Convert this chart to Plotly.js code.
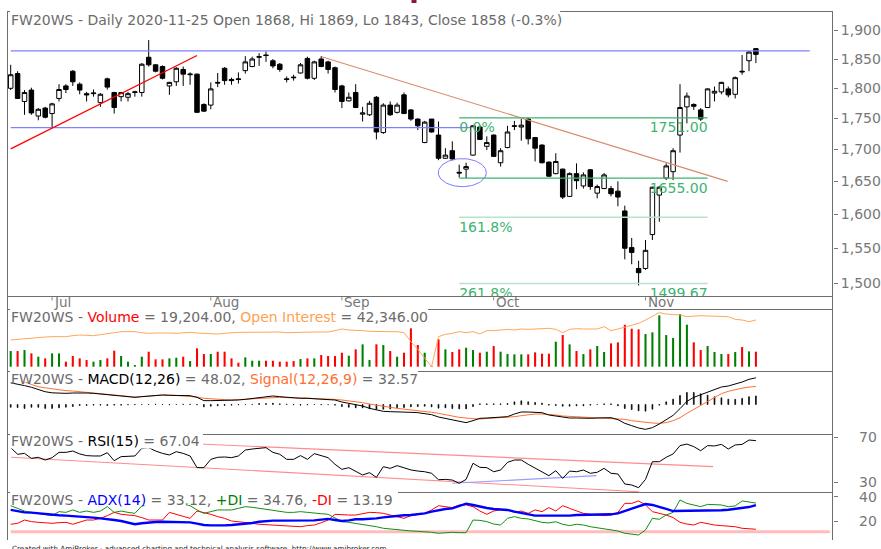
<!DOCTYPE html>
<html><head><meta charset="utf-8">
<script src="https://cdn.plot.ly/plotly-3.0.1.min.js"></script>
<style>html,body{margin:0;padding:0;background:#fff;overflow:hidden}#chart{width:881px;height:549px}</style>
</head><body><div id="chart"></div>
<script>
// ---------------- DATA ----------------
const open = [1800,1825,1778,1797,1754,1767,1758,1783,1804,1829,
1807,1791,1791,1776,1816,1793,1786,1785,1793,1793,
1853,1840,1837,1804,1811,1832,1823,1824,1773,1772,
1810,1834,1815,1816,1830,1837,1853,1857,1847,1841,
1816,1819,1826,1851,1817,1850,1845,1835,1804,1779,
1793,1757,1756,1785,1727,1772,1760,1789,1764,1749,
1711,1749,1723,1686,1698,1664,1669,1691,1736,1705,
1723,1679,1703,1737,1736,1749,1719,1707,1680,1662,
1669,1627,1662,1643,1668,1632,1639,1639,1635,1605,
1551,1521,1521,1570,1629,1655,1665,1723,1769,1773,
1764,1768,1792,1794,1799,1790,1829,1847,1868];
const high = [1840,1829,1797,1801,1767,1769,1776,1807,1807,1831,
1810,1794,1798,1792,1818,1794,1794,1794,1796,1843,
1883,1841,1839,1811,1836,1837,1827,1825,1775,1810,
1826,1836,1818,1827,1855,1854,1860,1863,1850,1843,
1820,1823,1843,1854,1847,1855,1847,1837,1806,1793,
1807,1769,1779,1787,1775,1778,1776,1793,1765,1750,
1746,1749,1745,1702,1713,1676,1679,1739,1739,1721,
1724,1702,1738,1746,1749,1751,1720,1708,1681,1694,
1670,1664,1678,1664,1669,1645,1663,1643,1650,1613,
1565,1532,1562,1642,1643,1678,1702,1807,1793,1775,
1767,1800,1803,1811,1803,1820,1857,1864,1869];
const low = [1797,1782,1756,1756,1747,1750,1734,1778,1792,1804,
1790,1778,1786,1769,1798,1758,1778,1778,1786,1786,
1837,1827,1815,1789,1804,1804,1806,1759,1761,1765,
1802,1806,1806,1808,1825,1836,1838,1845,1834,1828,
1810,1813,1825,1815,1814,1836,1825,1793,1767,1778,
1767,1745,1754,1716,1725,1754,1758,1757,1746,1731,
1710,1727,1683,1685,1683,1656,1655,1690,1715,1699,
1688,1673,1702,1731,1714,1708,1681,1678,1657,1661,
1623,1626,1638,1639,1637,1624,1638,1627,1612,1534,
1527,1497,1519,1562,1589,1652,1652,1695,1742,1764,
1746,1767,1778,1790,1785,1783,1823,1829,1843];
const close = [1823,1783,1793,1759,1765,1752,1774,1798,1798,1811,
1797,1789,1792,1790,1802,1768,1793,1791,1794,1841,
1840,1829,1817,1810,1834,1824,1824,1760,1762,1799,
1809,1813,1813,1815,1845,1850,1854,1856,1838,1832,
1815,1818,1840,1817,1845,1837,1832,1798,1778,1785,
1768,1759,1775,1728,1772,1756,1772,1758,1749,1738,
1744,1728,1686,1691,1685,1663,1673,1738,1716,1711,
1689,1698,1728,1738,1739,1717,1702,1679,1658,1681,
1626,1662,1651,1660,1642,1642,1660,1631,1626,1550,
1544,1515,1547,1641,1641,1674,1698,1768,1787,1770,
1749,1799,1795,1810,1789,1818,1828,1862,1858];
const volume = [20050,20050,21330,17070,12800,10670,17070,17070,6400,13650,
10670,8530,6400,8530,10670,20480,13650,6400,2130,12800,
19200,9390,9390,10670,11520,12800,7250,23470,16210,16210,
19200,19200,10670,5120,11950,7680,7680,7680,7680,6400,
6400,7250,9810,10670,10670,14930,13650,13650,17920,14080,
22190,28590,8530,28590,27730,20050,12800,17920,49070,27730,
17920,850,34990,22190,18770,22190,24320,21330,17920,19200,
26450,19200,16210,15790,15790,15790,18350,16640,16640,32000,
40530,28590,20050,16210,22190,26450,18770,29870,31150,53760,
48640,47790,41810,43950,65710,40530,36690,67410,53760,31150,
21330,26450,18770,16210,16210,18770,25170,19630,19204];
const openInterest = [33207,33512,33968,34120,34273,34577,34730,34730,34730,35187,
35491,35339,35187,35644,36253,36558,37015,37015,37015,36558,
36253,36405,36558,36405,36253,36558,36710,36405,36253,36101,
35948,36253,36558,36710,36710,36710,36862,36710,37015,36862,
36558,36710,36710,36862,36862,36862,36862,37471,38233,37776,
37776,37471,37167,37015,37015,37015,37015,36558,32446,28943,
24830,21023,34730,35796,36253,37015,36558,37015,35948,37471,
37471,37776,38081,37776,38233,38081,38233,38233,38538,38081,
36558,38081,38385,38233,38233,38233,39299,37471,38233,38994,
40060,40822,42345,44173,45696,45086,44934,44629,43868,44173,
44325,44173,44173,43868,43868,42650,42345,41584,42346];
const macd = [39,37,34,31,27,23,21,20.1,20.1,20.7,
21.3,20.7,20.1,18.9,17.1,15.9,14.1,13.5,12.9,14.1,
15.3,17.1,17.1,16.5,16.5,16.5,15.9,12.9,6.9,6.9,
6.9,6.9,6.9,8.1,9.3,10.5,12.9,14.1,15.3,14.1,
12.9,11.7,11.1,11.1,10.5,9.9,9.9,8.1,4.5,2.1,
-0.9,-2.7,-6.9,-9.9,-12.3,-12.9,-12.9,-13.5,-14.1,-14.7,
-15.9,-18.3,-22.5,-24.9,-27.9,-30.9,-32.7,-29.1,-24.9,-24.3,
-23.7,-23.1,-21.9,-17.1,-13.5,-13.5,-13.5,-14.7,-18.9,-20.7,
-23.7,-24.3,-24.3,-24.9,-24.9,-24.3,-23.7,-23.7,-27.3,-33.9,
-38.1,-42.3,-44.7,-41.7,-35.1,-27.9,-19.5,-7.5,5.7,12.9,
17.7,23.1,27.3,31.5,33.3,36.3,40.5,45.3,48.02];
const signal = [44,42.5,41,36,32,30,28,26.1,24.9,24.3,
23.1,22.5,21.3,20.1,18.9,17.1,15.3,14.1,13.5,14.1,
15.3,16.5,17.1,17.1,16.5,15.9,15.3,13.5,11.1,9.9,
9.3,8.7,8.1,8.7,9.3,10.5,11.1,12.3,12.9,12.9,
12.3,12.3,12.3,11.7,10.5,10.5,9.9,9.3,8.1,6.9,
5.1,3.3,0.9,-1.5,-3.9,-5.1,-6.9,-8.1,-9.9,-11.1,
-12.9,-14.1,-15.9,-18.9,-20.7,-23.1,-24.9,-25.5,-26.1,-25.5,
-24.9,-24.3,-23.7,-21.9,-20.1,-18.3,-17.1,-17.1,-17.7,-18.9,
-20.7,-21.3,-21.9,-22.5,-23.7,-24.3,-24.9,-24.9,-24.9,-26.7,
-29.1,-30.9,-32.7,-33.3,-33.9,-32.7,-29.1,-23.7,-15.9,-8.7,
-1.5,6.3,13.5,19.5,23.7,27.0,29.5,31.3,32.57];
const rsi = [60.8,54.9,55.7,51.3,52.2,49.8,51.9,56.6,56.6,57.8,
55.2,53.7,53.4,53.4,56.3,49.2,52.8,52.8,53.4,60.2,
60.8,57.8,55.7,54.3,57.2,55.7,53.4,43.0,43.0,50.4,
52.2,52.5,51.9,53.4,58.7,59.6,60.2,60.8,56.6,54.9,
50.4,50.4,53.7,50.4,55.5,53.4,51.9,46.0,41.5,43.0,
39.4,36.5,38.6,34.4,43.9,42.4,44.8,43.0,41.0,40.0,
39.4,38.0,32.3,32.6,32.0,29.1,32.6,46.9,43.3,43.0,
39.4,40.9,47.7,49.8,49.8,46.0,42.4,39.4,35.9,40.3,
33.5,40.0,39.4,40.9,38.0,38.9,42.4,38.0,37.4,28.5,
27.6,25.2,32.6,48.3,48.3,52.2,55.2,62.6,64.0,61.7,
58.1,62.6,62.3,63.7,59.6,63.2,63.7,67.6,67.04];
const adx = [29.1,28.2,27.1,26.9,26.3,25.8,24.9,24.7,24.4,24.1,
23.6,23.3,22.8,22.2,21.7,20.8,20.0,18.6,17.3,18.1,
18.9,19.2,19.4,19.2,18.9,18.9,18.9,17.8,16.7,16.4,
16.2,16.4,16.7,17.3,17.5,18.4,19.4,20.0,20.3,20.3,
20.3,20.0,20.0,20.3,20.5,21.1,21.7,20.8,20.0,20.5,
21.4,21.4,21.7,22.2,23.0,23.6,24.4,24.7,24.9,25.5,
26.3,27.7,29.1,29.9,30.4,32.3,34.3,33.2,31.8,30.7,
29.9,29.6,29.1,27.7,26.6,25.5,24.4,24.4,24.4,24.1,
24.1,24.4,24.9,24.9,24.9,24.9,24.9,25.5,26.3,28.2,
30.7,32.6,34.0,33.2,31.8,29.9,28.2,28.2,28.2,28.2,
28.5,28.5,28.5,28.8,29.3,29.9,30.4,31.5,33.12];
const plusDI = [32.6,30.4,28.2,27.1,26.3,25.5,24.4,27.7,27.1,29.1,
27.1,28.2,27.1,28.2,31.8,27.1,28.2,27.1,26.3,32.4,
34.5,34.5,34.8,34.3,34.5,34.0,32.6,29.1,26.3,27.7,
29.1,29.1,29.1,30.4,31.8,31.3,30.4,29.9,29.1,28.2,
27.1,27.1,27.7,27.1,26.3,26.0,25.5,22.2,19.5,18.9,
18.1,17.3,16.7,15.3,14.0,13.4,12.6,12.3,11.8,11.5,
11.2,10.7,9.9,10.4,10.7,10.4,10.4,20.8,20.5,19.5,
17.5,16.7,22.2,23.6,22.2,21.7,20.0,18.9,18.4,19.4,
17.3,16.2,17.3,16.7,15.3,14.5,13.4,12.9,11.8,9.9,
9.3,8.5,12.6,22.2,21.4,24.9,27.1,37.3,34.5,33.2,
31.8,33.7,33.2,33.2,31.8,32.4,36.5,35.4,34.76];
const minusDI = [17.3,18.1,20.8,19.5,18.9,18.6,18.1,18.6,18.9,17.3,
18.9,20.8,20.8,22.2,24.4,27.1,25.5,24.9,24.4,22.8,
20.8,20.8,20.8,27.1,25.5,23.6,22.2,28.2,27.1,25.5,
23.6,22.2,20.0,19.5,18.9,18.1,17.3,17.0,16.7,16.2,
15.9,15.6,15.3,16.2,16.7,18.6,20.8,25.5,24.9,24.9,
24.9,26.0,27.1,26.9,26.3,24.9,23.6,22.2,24.4,25.5,
26.3,29.1,32.6,31.8,31.0,33.2,33.2,31.8,28.2,25.5,
28.2,29.3,29.1,27.1,28.2,26.3,29.1,27.7,31.0,28.2,
32.6,30.4,28.2,26.3,25.5,24.9,24.4,24.9,27.1,34.5,
34.5,36.5,33.2,27.7,26.3,24.9,22.8,18.9,17.5,16.7,
18.9,17.5,16.7,16.2,15.9,15.3,14.0,13.4,13.19];

const priceTicks = [1500,1550,1600,1650,1700,1750,1800,1850,1900];
const priceTickText = ['1,500','1,550','1,600','1,650','1,700','1,750','1,800','1,850','1,900'];
const monthLabels = ['Jul','Aug','Sep','Oct','Nov'];
const monthIdx = [6,29,48,70,92];
const rsiTicks = [30,70];
const adxTicks = [20,40];

// drawing tools (trend lines, fib)
const upTrendIdx = [0,27], upTrendPrice = [1701,1856];
const downTrendIdx = [45.07,103.9], downTrendPrice = [1854,1650];
const resistIdx = [0,115.8], resistPrice = 1864;
const supportIdx = [0,66.6], supportPrice = 1735;
const fibIdx = [65,101];
const fibLevels = [1751.00,1655.00,1595.67,1499.67];
const fibPctText = ['0.0%','','161.8%','261.8%'];
const fibValText = ['1751.00','1655.00','','1499.67'];
const ellipseCenterIdx = 65.45, ellipseCenterPrice = 1663.5;
const rsiUpperIdx = [20,101.8], rsiUpperVal = [66.1,43.9];
const rsiLowerIdx = [0.04,91.06], rsiLowerVal = [52.2,21.6];
const rsiSupIdx = [64.0,84.9], rsiSupVal = [29.1,35.9];
const adxLevelIdx = [0,118.7], adxLevel = 11.2;

// ---------------- LAYOUT GEOMETRY ----------------
const W=881, H=549, PL=7, PR=833;
const X0=10.7, DX=6.9;
const xRange=[(PL-X0)/DX,(PR-X0)/DX];
const py = p => 1 - p/H;
const px = x => (x-PL)/(PR-PL);
const dom = (t,b) => [1-b/H, 1-t/H];
const PPD = 2463; // px per decade for price
const logRef = Math.log10(1850), yRef = 59;
const mainRange = [logRef-(296-yRef)/PPD, logRef+(yRef-12)/PPD];
const shiftDown = (v,pxs) => v*Math.pow(10,-pxs/PPD);

const N = close.length;
const idx = Array.from({length:N},(_,i)=>i);
const GREEN='#008000', RED='#ff0000';
const volColors = idx.map(i => close[i] >= open[i] ? GREEN : RED);
const hist = idx.map(i => +(macd[i]-signal[i]).toFixed(2));

// ellipse (drawing)
const ex=[], ey=[];
for(let k=0;k<=80;k++){const t=k/80*2*Math.PI; ex.push(ellipseCenterIdx+3.48*Math.cos(t)); ey.push(Math.pow(10,Math.log10(ellipseCenterPrice)+(14/PPD)*Math.sin(t)));}

const fibGreen='#3cb371', fibLight='#b9e3c9';
const traces = [
 {type:'candlestick', x:idx, open:open, high:high, low:low, close:close,
  increasing:{fillcolor:'#ffffff', line:{color:'#000',width:1}},
  decreasing:{fillcolor:'#000000', line:{color:'#000',width:1}},
  whiskerwidth:0, xaxis:'x', yaxis:'y', hoverinfo:'skip'},
 {type:'scatter', mode:'lines', x:resistIdx, y:[resistPrice,resistPrice], line:{color:'#8080ff',width:1.3}, xaxis:'x', yaxis:'y'},
 {type:'scatter', mode:'lines', x:supportIdx, y:[supportPrice,supportPrice], line:{color:'#8080ff',width:1.3}, xaxis:'x', yaxis:'y'},
 {type:'scatter', mode:'lines', x:upTrendIdx, y:upTrendPrice, line:{color:'#ff0000',width:1.3}, xaxis:'x', yaxis:'y'},
 {type:'scatter', mode:'lines', x:downTrendIdx, y:downTrendPrice, line:{color:'#d88a6c',width:1.1}, xaxis:'x', yaxis:'y'},
 {type:'scatter', mode:'lines', x:ex, y:ey, line:{color:'#7a7aff',width:1}, xaxis:'x', yaxis:'y'},
];
fibLevels.forEach((lv,k)=>{
  traces.push({type:'scatter', mode:'lines', x:fibIdx, y:[lv,lv], line:{color:k<2?fibGreen:fibLight,width:1.4}, xaxis:'x', yaxis:'y'});
});
traces.push({type:'scatter', mode:'text', x:fibLevels.map(()=>fibIdx[0]), y:fibLevels.map(v=>shiftDown(v,4)), text:fibPctText, textposition:'bottom right', textfont:{family:'DejaVu Sans',size:14,color:fibGreen}, xaxis:'x', yaxis:'y'});
traces.push({type:'scatter', mode:'text', x:fibLevels.map(()=>fibIdx[1]), y:fibLevels.map(v=>shiftDown(v,4)), text:fibValText, textposition:'bottom left', textfont:{family:'DejaVu Sans',size:14,color:fibGreen}, xaxis:'x', yaxis:'y'});
// volume + OI
traces.push({type:'bar', x:idx, y:volume, width:0.3, marker:{color:volColors, line:{width:0}}, xaxis:'x', yaxis:'y2'});
traces.push({type:'scatter', mode:'lines', x:idx, y:openInterest, line:{color:'#ffa75a',width:1}, xaxis:'x', yaxis:'y3'});
// MACD
traces.push({type:'bar', x:idx, y:hist, width:0.12, marker:{color:'#000', line:{color:'#000',width:0.7}}, xaxis:'x', yaxis:'y4'});
traces.push({type:'scatter', mode:'lines', x:idx, y:signal, line:{color:'#ff6f30',width:1}, xaxis:'x', yaxis:'y4'});
traces.push({type:'scatter', mode:'lines', x:idx, y:macd, line:{color:'#000',width:1}, xaxis:'x', yaxis:'y4'});
// RSI
traces.push({type:'scatter', mode:'lines', x:rsiUpperIdx, y:rsiUpperVal, line:{color:'#ff8c8c',width:1.1}, xaxis:'x', yaxis:'y5'});
traces.push({type:'scatter', mode:'lines', x:rsiLowerIdx, y:rsiLowerVal, line:{color:'#ff8c8c',width:1.1}, xaxis:'x', yaxis:'y5'});
traces.push({type:'scatter', mode:'lines', x:rsiSupIdx, y:rsiSupVal, line:{color:'#9a9aff',width:1.1}, xaxis:'x', yaxis:'y5'});
traces.push({type:'scatter', mode:'lines', x:idx, y:rsi, line:{color:'#000',width:1}, xaxis:'x', yaxis:'y5'});
// ADX
traces.push({type:'scatter', mode:'lines', x:adxLevelIdx, y:[adxLevel,adxLevel], line:{color:'#ffbcbc',width:3}, xaxis:'x', yaxis:'y6'});
traces.push({type:'scatter', mode:'lines', x:idx, y:minusDI, line:{color:'#ff0000',width:1}, xaxis:'x', yaxis:'y6'});
traces.push({type:'scatter', mode:'lines', x:idx, y:plusDI, line:{color:'#109010',width:1}, xaxis:'x', yaxis:'y6'});
traces.push({type:'scatter', mode:'lines', x:idx, y:adx, line:{color:'#0000ff',width:2.4}, xaxis:'x', yaxis:'y6'});

// ---------------- SHAPES ----------------
const G='#6e6e6e';
const hline = (y)=>({type:'line', xref:'paper', yref:'paper', x0:px(7), x1:px(833), y0:py(y), y1:py(y), line:{color:G,width:1}, layer:'above'});
const shapes = [
  hline(11.5), hline(296.5), hline(309.5), hline(371.5), hline(434.5), hline(492.5),
  {type:'line', xref:'paper', yref:'paper', x0:px(7.5), x1:px(7.5), y0:py(11.5), y1:py(540), line:{color:G,width:1}, layer:'above'},
  {type:'line', xref:'paper', yref:'paper', x0:px(832.5), x1:px(832.5), y0:py(11.5), y1:py(540), line:{color:G,width:1}, layer:'above'},
  // white title boxes
  {type:'rect', xref:'paper', yref:'paper', x0:px(10), x1:px(560), y0:py(26), y1:py(9), fillcolor:'#fff', line:{width:0}, layer:'above'},
  {type:'rect', xref:'paper', yref:'paper', x0:px(10), x1:px(428), y0:py(321), y1:py(306), fillcolor:'#fff', line:{width:0}, layer:'above'},
  {type:'rect', xref:'paper', yref:'paper', x0:px(10), x1:px(418), y0:py(382), y1:py(368), fillcolor:'#fff', line:{width:0}, layer:'above'},
  {type:'rect', xref:'paper', yref:'paper', x0:px(10), x1:px(203), y0:py(448.6), y1:py(431), fillcolor:'#fff', line:{width:0}, layer:'above'},
  {type:'rect', xref:'paper', yref:'paper', x0:px(10), x1:px(398), y0:py(505), y1:py(489), fillcolor:'#fff', line:{width:0}, layer:'above'},
  {type:'rect', xref:'paper', yref:'paper', x0:px(411.5), x1:px(416.5), y0:py(3), y1:py(0), fillcolor:'#8a1a3c', line:{width:0}, layer:'above'}
];
monthIdx.forEach(m=>shapes.push({type:'line', xref:'x', yref:'paper', x0:m, x1:m, y0:py(296.5), y1:py(300.5), line:{color:'#888',width:1}, layer:'above'}));

// ---------------- ANNOTATIONS ----------------
const FONT='DejaVu Sans';
const ann = (x,y,text,size,color,xa,ya)=>({xref:'paper', yref:'paper', x:px(x), y:py(y), text:text, showarrow:false, xanchor:xa||'left', yanchor:ya||'top', borderpad:0, font:{family:FONT,size:size||14,color:color||'#6b6b6b'}});
const annotations = [
  ann(10,10.5,'FW20WS - Daily 2020-11-25 Open 1868, Hi 1869, Lo 1843, Close 1858 (-0.3%)'),
  ann(10,307.7,'FW20WS - <span style="color:#ff0000">Volume</span> = 19,204.00, <span style="color:#ffa14f">Open Interest</span> = 42,346.00'),
  ann(10,369.9,'FW20WS - <span style="color:#000000">MACD(12,26)</span> = 48.02, <span style="color:#ff6f30">Signal(12,26,9)</span> = 32.57'),
  ann(10,432.2,'FW20WS - <span style="color:#000000">RSI(15)</span> = 67.04'),
  ann(10,490.5,'FW20WS - <span style="color:#0000ff">ADX(14)</span> = 33.12, <span style="color:#008000">+DI</span> = 34.76, <span style="color:#ff0000">-DI</span> = 13.19'),
  ann(11,542.9,'Created with AmiBroker - advanced charting and technical analysis software. http://www.amibroker.com',7.2,'#222')
];
monthLabels.forEach((m,k)=>annotations.push({xref:'x', yref:'paper', x:monthIdx[k]+0.2, y:py(293.3), text:m, showarrow:false, xanchor:'left', yanchor:'top', borderpad:0, font:{family:FONT,size:13.5,color:'#777'}}));
// lower-panel axis labels (right aligned)
const rsiPx = v => 437.3 + (70-v)*1.125;
const adxPx = v => 521 - (v-20)*1.215;
rsiTicks.forEach(v=>annotations.push(ann(878,rsiPx(v),String(v),14,'#777','right','middle')));
adxTicks.forEach(v=>annotations.push(ann(878,adxPx(v),String(v),14,'#777','right','middle')));

const hidden = {visible:false, fixedrange:true};
const layout = {
  width:W, height:H, margin:{l:PL, r:W-PR, t:0, b:0, pad:0},
  paper_bgcolor:'#fff', plot_bgcolor:'#fff', showlegend:false, hovermode:false,
  font:{family:FONT, size:14, color:'#777'},
  barmode:'overlay', boxgap:0.35, boxgroupgap:0,
  xaxis:{domain:[0,1], range:xRange, visible:false, anchor:'y6', rangeslider:{visible:false}, fixedrange:true},
  yaxis:{domain:dom(12,296), type:'log', range:mainRange, side:'right', anchor:'x',
    tickmode:'array', tickvals:priceTicks, ticktext:priceTickText, ticks:'outside', ticklen:4, tickcolor:'#777',
    tickfont:{family:FONT,size:14,color:'#777'}, ticklabelstandoff:0, showgrid:false, zeroline:false, showline:false, fixedrange:true},
  yaxis2:Object.assign({domain:dom(309,371), range:[-5504,73856], anchor:'x'},hidden),
  yaxis3:Object.assign({overlaying:'y2', range:[19035,47373], anchor:'x'},hidden),
  yaxis4:Object.assign({domain:dom(371,434), range:[-53.1,60.3], anchor:'x'},hidden),
  yaxis5:{domain:dom(434,492), range:[21.38,72.93], side:'right', anchor:'x', tickmode:'array', tickvals:rsiTicks,
    ticks:'outside', ticklen:4, tickcolor:'#777', showticklabels:false, showgrid:false, zeroline:false, showline:false, fixedrange:true},
  yaxis6:{domain:dom(492,540), range:[4.36,43.87], side:'right', anchor:'x', tickmode:'array', tickvals:adxTicks,
    ticks:'outside', ticklen:4, tickcolor:'#777', showticklabels:false, showgrid:false, zeroline:false, showline:false, fixedrange:true},
  shapes:shapes, annotations:annotations
};
Plotly.newPlot('chart', traces, layout, {displayModeBar:false, staticPlot:true});
</script>
</body></html>
